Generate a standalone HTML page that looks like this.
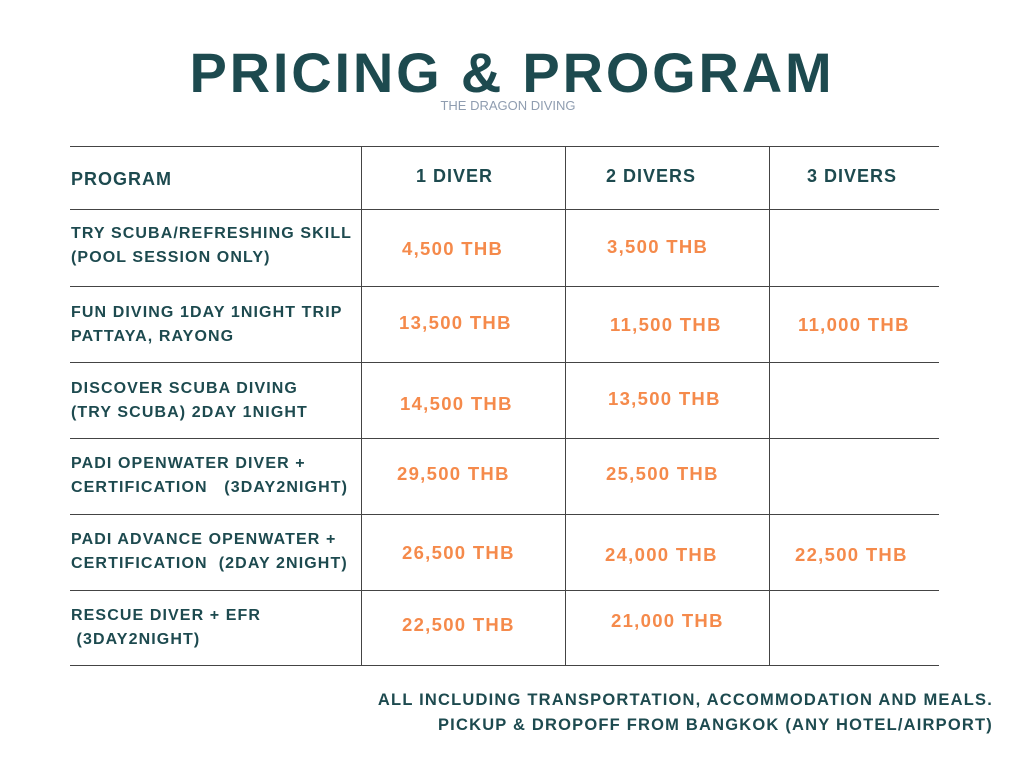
<!DOCTYPE html>
<html><head><meta charset="utf-8"><style>
body{margin:0;width:1024px;height:768px;background:#fff;position:relative;overflow:hidden;font-family:"Liberation Sans",sans-serif;font-weight:bold;color:#1d4a4f}
.a{position:absolute;white-space:nowrap}
.h{position:absolute;left:70px;width:869px;height:1px;background:#444}
.v{position:absolute;top:146px;height:520px;width:1px;background:#444}
.t{font-size:16px;letter-spacing:1.1px;line-height:24px}
.p{font-size:18.5px;color:#f58a4b;letter-spacing:1.3px}
.c{font-size:18px;letter-spacing:1px}
</style></head><body>
<div class="a" style="left:0;width:1024px;text-align:center;top:40px;font-size:56px;letter-spacing:2.8px">PRICING &amp; PROGRAM</div>
<div class="a" style="left:0;width:1016px;text-align:center;top:98px;font-size:13px;font-weight:normal;color:#8f9db0">THE DRAGON DIVING</div>
<div class="h" style="top:146px"></div><div class="h" style="top:209px"></div><div class="h" style="top:286px"></div><div class="h" style="top:362px"></div><div class="h" style="top:438px"></div><div class="h" style="top:514px"></div><div class="h" style="top:590px"></div><div class="h" style="top:665px"></div>
<div class="v" style="left:361px"></div><div class="v" style="left:565px"></div><div class="v" style="left:769px"></div>
<div class="a c" style="left:71px;top:169px">PROGRAM</div>
<div class="a c" style="left:416px;top:166px">1 DIVER</div>
<div class="a c" style="left:606px;top:166px">2 DIVERS</div>
<div class="a c" style="left:807px;top:166px">3 DIVERS</div>
<div class="a t" style="left:71px;top:222px">TRY SCUBA/REFRESHING SKILL<br>(POOL SESSION ONLY)</div>
<div class="a t" style="left:71px;top:301px">FUN DIVING 1DAY 1NIGHT TRIP<br>PATTAYA, RAYONG</div>
<div class="a t" style="left:71px;top:377px">DISCOVER SCUBA DIVING<br>(TRY SCUBA) 2DAY 1NIGHT</div>
<div class="a t" style="left:71px;top:452px">PADI OPENWATER DIVER +<br>CERTIFICATION &nbsp;&nbsp;(3DAY2NIGHT)</div>
<div class="a t" style="left:71px;top:528px">PADI ADVANCE OPENWATER +<br>CERTIFICATION &nbsp;(2DAY 2NIGHT)</div>
<div class="a t" style="left:71px;top:604px">RESCUE DIVER + EFR<br>&nbsp;(3DAY2NIGHT)</div>
<div class="a p" style="left:402px;top:238px">4,500 THB</div>
<div class="a p" style="left:607px;top:236px">3,500 THB</div>
<div class="a p" style="left:399px;top:312px">13,500 THB</div>
<div class="a p" style="left:610px;top:314px">11,500 THB</div>
<div class="a p" style="left:798px;top:314px">11,000 THB</div>
<div class="a p" style="left:400px;top:393px">14,500 THB</div>
<div class="a p" style="left:608px;top:388px">13,500 THB</div>
<div class="a p" style="left:397px;top:463px">29,500 THB</div>
<div class="a p" style="left:606px;top:463px">25,500 THB</div>
<div class="a p" style="left:402px;top:542px">26,500 THB</div>
<div class="a p" style="left:605px;top:544px">24,000 THB</div>
<div class="a p" style="left:795px;top:544px">22,500 THB</div>
<div class="a p" style="left:402px;top:614px">22,500 THB</div>
<div class="a p" style="left:611px;top:610px">21,000 THB</div>
<div class="a" style="right:31px;top:688px;text-align:right;font-size:16.5px;letter-spacing:1.2px;line-height:25px">ALL INCLUDING TRANSPORTATION, ACCOMMODATION AND MEALS.<br>PICKUP &amp; DROPOFF FROM BANGKOK (ANY HOTEL/AIRPORT)</div>
</body></html>
